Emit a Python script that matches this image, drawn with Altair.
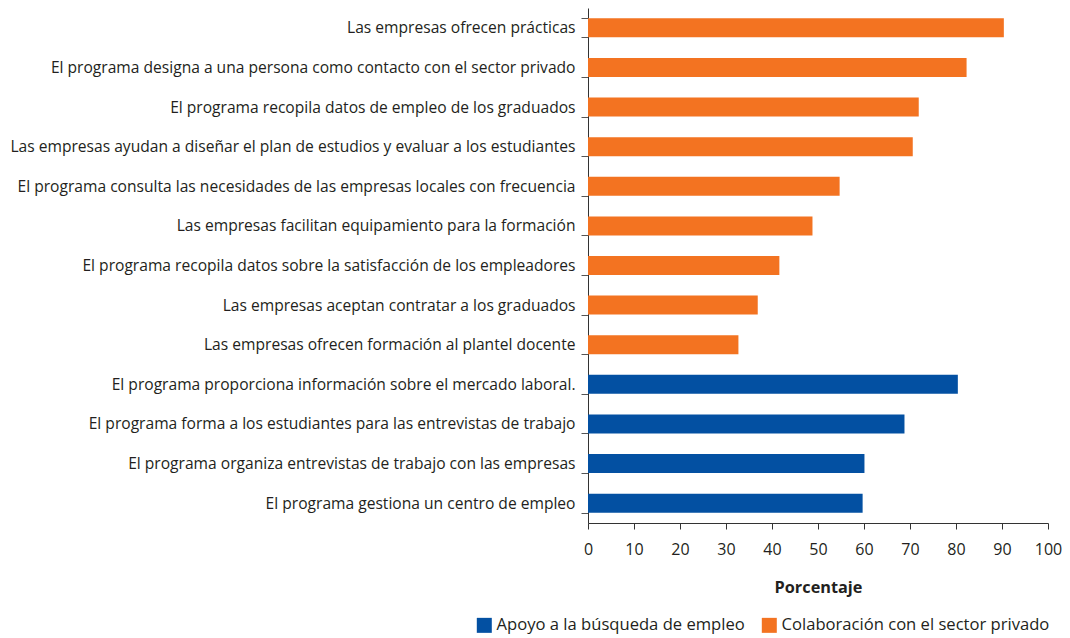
import altair as alt
import pandas as pd

categories = [
    "Las empresas ofrecen prácticas",
    "El programa designa a una persona como contacto con el sector privado",
    "El programa recopila datos de empleo de los graduados",
    "Las empresas ayudan a diseñar el plan de estudios y evaluar a los estudiantes",
    "El programa consulta las necesidades de las empresas locales con frecuencia",
    "Las empresas facilitan equipamiento para la formación",
    "El programa recopila datos sobre la satisfacción de los empleadores",
    "Las empresas aceptan contratar a los graduados",
    "Las empresas ofrecen formación al plantel docente",
    "El programa proporciona información sobre el mercado laboral.",
    "El programa forma a los estudiantes para las entrevistas de trabajo",
    "El programa organiza entrevistas de trabajo con las empresas",
    "El programa gestiona un centro de empleo",
]
values = [90.4, 82.3, 71.9, 70.6, 54.7, 48.8, 41.6, 36.9, 32.7, 80.4, 68.8, 60.1, 59.7]
groups = ["Colaboración con el sector privado"] * 9 + ["Apoyo a la búsqueda de empleo"] * 4
group_order = ["Apoyo a la búsqueda de empleo", "Colaboración con el sector privado"]
group_colors = ["#0350A2", "#F37321"]
x_ticks = list(range(0, 101, 10))

df = pd.DataFrame({"cat": categories, "val": values, "grp": groups})

FONT = "Open Sans"
TXT = "#231F20"

chart = (
    alt.Chart(df)
    .mark_bar()
    .encode(
        y=alt.Y(
            "cat:N",
            sort=categories,
            title=None,
            scale=alt.Scale(paddingInner=0.52, paddingOuter=0.26),
            axis=alt.Axis(
                tickBand="extent",
                tickSize=7,
                tickColor="#555555",
                domainColor="#333333",
                labelFontSize=15.6,
                labelFont=FONT,
                labelColor=TXT,
                labelPadding=6,
                labelLimit=700,
            ),
        ),
        x=alt.X(
            "val:Q",
            title="Porcentaje",
            scale=alt.Scale(domain=[0, 100], nice=False),
            axis=alt.Axis(
                values=x_ticks,
                grid=False,
                tickSize=6,
                tickColor="#333333",
                domainColor="#333333",
                labelFontSize=16,
                labelFont=FONT,
                labelColor=TXT,
                labelPadding=12,
                labelFlush=False,
                labelOverlap=False,
                titleFont=FONT,
                titleFontSize=16.3,
                titleFontWeight="bold",
                titleColor=TXT,
                titlePadding=22,
            ),
        ),
        color=alt.Color(
            "grp:N",
            scale=alt.Scale(domain=group_order, range=group_colors),
            legend=alt.Legend(
                title=None,
                orient="none",
                legendX=-112,
                legendY=609,
                direction="horizontal",
                symbolType="square",
                symbolSize=225,
                symbolStrokeWidth=0,
                labelFont=FONT,
                labelFontSize=16.6,
                labelColor=TXT,
                labelLimit=400,
                columnPadding=16,
                symbolOffset=0,
            ),
        ),
    )
    .properties(
        width=460,
        height=515,
        autosize=alt.AutoSizeParams(type="none"),
        padding={"left": 580, "top": 0, "right": 14, "bottom": 112},
    )
    .configure_view(stroke=None)
)

chart.save("out.html", embed_options={"renderer": "svg", "actions": False})
